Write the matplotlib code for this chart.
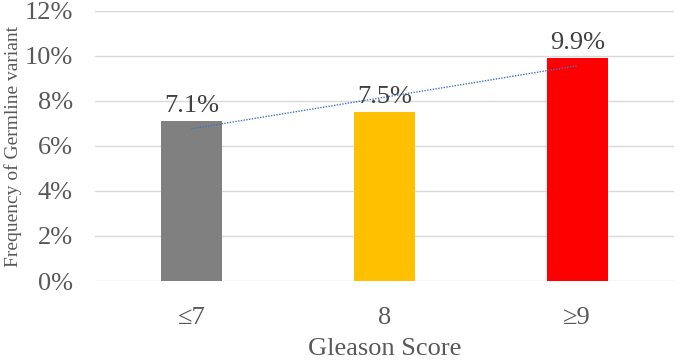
import matplotlib.pyplot as plt
import numpy as np

plt.rcParams['font.family'] = ['Liberation Serif', 'DejaVu Serif']

categories = ['≤7', '8', '≥9']
values = [7.1, 7.5, 9.9]
colors = ['#808080', '#FFC000', '#FF0000']
yticks = [0, 2, 4, 6, 8, 10, 12]

text_col = '#595959'

fig = plt.figure(figsize=(6.8, 3.61), dpi=100)
ax = fig.add_axes([0.1397, 0.2216, 0.851, 0.748])

x = np.arange(len(categories))
ax.bar(x, values, width=0.316, color=colors, zorder=2)

for xi, v in zip(x, values):
    ax.annotate(f'{v:.1f}%', (xi, v), xytext=(0, 3), textcoords='offset points',
                ha='center', va='bottom', fontsize=19, color='#404040', zorder=4)

# linear trendline over the three bars
k, b = np.polyfit(x, values, 1)
ax.plot([x[0], x[-1]], [k * x[0] + b, k * x[-1] + b], color='#4472C4',
        linestyle=(0, (1, 1)), linewidth=1.0, zorder=3)

ax.set_xlim(-0.5, 2.5)
ax.set_ylim(0, 12)
ax.set_yticks(yticks)
ax.set_yticklabels([f'{t}%' for t in yticks])
ax.set_xticks(x)
ax.set_xticklabels(categories)
ax.tick_params(axis='both', length=0, labelsize=19, colors=text_col)
ax.tick_params(axis='y', pad=16)
ax.tick_params(axis='x', pad=19)

ax.grid(axis='y', color='#D9D9D9', linewidth=1, zorder=0)
for s in ax.spines.values():
    s.set_visible(False)

ax.set_xlabel('Gleason Score', fontsize=19, color=text_col, labelpad=6)
ax.set_ylabel('Frequency of Germline variant', fontsize=14, color=text_col, labelpad=2)

fig.savefig('out.png', dpi=100)
